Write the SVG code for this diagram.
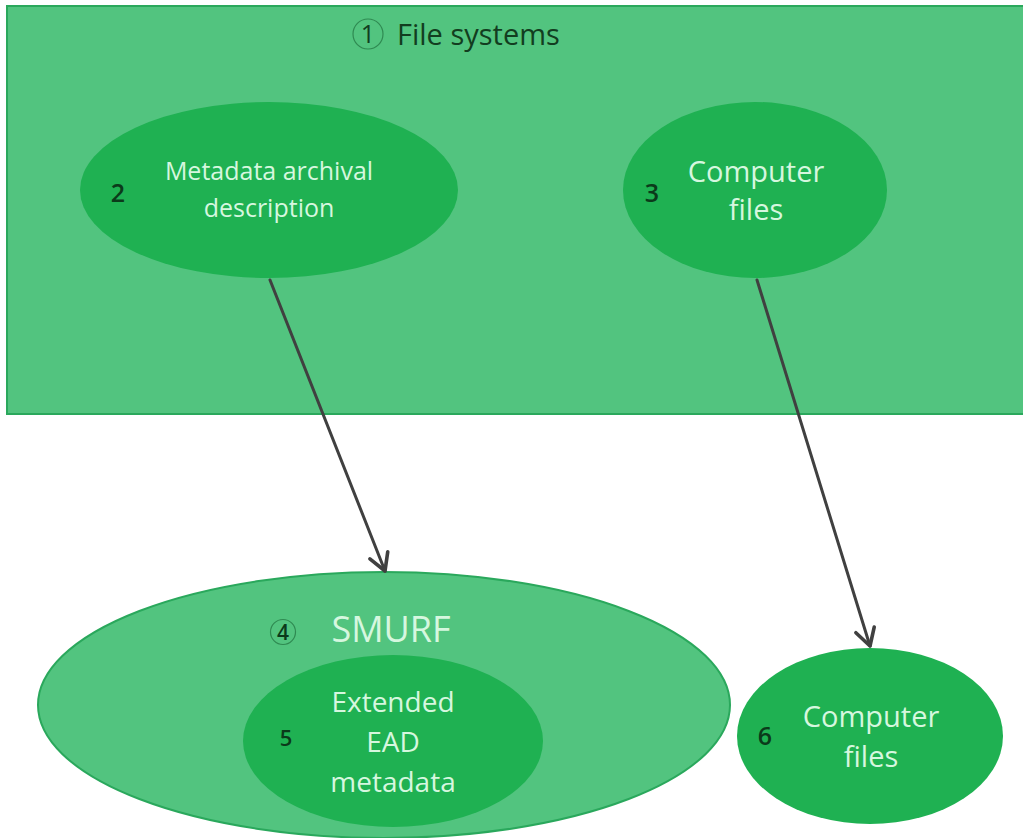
<svg xmlns="http://www.w3.org/2000/svg" width="1023" height="838" viewBox="0 0 1023 838">
<defs>
<style>
.box{fill:#52c47f;stroke:#2aa85c;stroke-width:2}
.dark{fill:#1fb152}
.lbl{font-family:"Open Sans","Liberation Sans",sans-serif;fill:#d6f7df;text-anchor:middle}
.num{font-family:"Open Sans","Liberation Sans",sans-serif;fill:#0b3a1a;text-anchor:middle;font-weight:600}
.ttl{font-family:"Open Sans","Liberation Sans",sans-serif;fill:#123d20}
.conn{stroke:#404040;stroke-width:3;fill:none;stroke-linecap:round}
</style>
<marker id="arr" viewBox="0 0 20 20" refX="17" refY="10" markerWidth="8" markerHeight="8" markerUnits="strokeWidth" orient="auto">
<path d="M3,2 L17,10 L3,18" fill="none" stroke="#404040" stroke-width="3" stroke-linecap="round" stroke-linejoin="round"/>
</marker>
</defs>
<rect width="1023" height="838" fill="#ffffff"/>
<g id="file-systems">
<rect class="box" x="7" y="6" width="1020" height="408"/>
<circle cx="368" cy="34" r="15" fill="none" stroke="#2f8a52" stroke-width="1.2"/>
<text class="ttl" x="368" y="43" font-size="25" text-anchor="middle">1</text>
<text class="ttl" x="397" y="45" font-size="29">File systems</text>
</g>
<g id="node2">
<ellipse class="dark" cx="269" cy="190" rx="189" ry="88"/>
<text class="lbl" x="269" y="180" font-size="25">Metadata archival</text>
<text class="lbl" x="269" y="217" font-size="25">description</text>
<text class="num" x="118" y="202" font-size="25">2</text>
</g>
<g id="node3">
<ellipse class="dark" cx="755" cy="190" rx="132" ry="88"/>
<text class="lbl" x="756" y="182" font-size="29">Computer</text>
<text class="lbl" x="756" y="220" font-size="29">files</text>
<text class="num" x="652" y="202" font-size="25">3</text>
</g>
<g id="node4">
<ellipse class="box" cx="384" cy="705" rx="346" ry="133"/>
<circle cx="283" cy="632" r="12.5" fill="none" stroke="#2f8a52" stroke-width="1.2"/>
<text class="num" x="283" y="640" font-size="21">4</text>
<text class="lbl" x="391" y="642" font-size="36">SMURF</text>
</g>
<g id="node5">
<ellipse class="dark" cx="393" cy="741" rx="150" ry="86"/>
<text class="lbl" x="393" y="712" font-size="28">Extended</text>
<text class="lbl" x="393" y="752" font-size="28">EAD</text>
<text class="lbl" x="393" y="792" font-size="28">metadata</text>
<text class="num" x="286" y="746" font-size="22">5</text>
</g>
<g id="node6">
<ellipse class="dark" cx="870" cy="736" rx="133" ry="88"/>
<text class="lbl" x="871" y="727" font-size="29">Computer</text>
<text class="lbl" x="871" y="767" font-size="29">files</text>
<text class="num" x="765" y="745" font-size="25">6</text>
</g>
<g id="connectors">
<line class="conn" x1="270" y1="280" x2="385" y2="571" marker-end="url(#arr)"/>
<line class="conn" x1="757" y1="280" x2="870" y2="646" marker-end="url(#arr)"/>
</g>
</svg>
